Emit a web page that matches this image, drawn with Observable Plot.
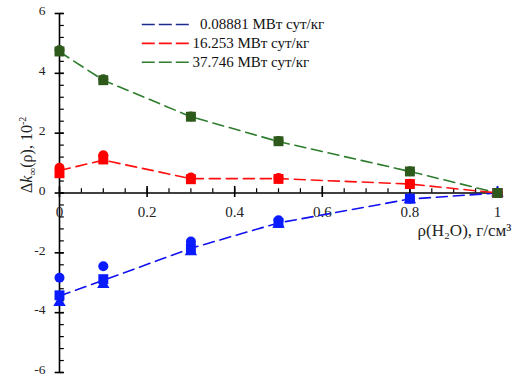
<!DOCTYPE html>
<html>
<head>
<meta charset="utf-8">
<script src="https://cdn.jsdelivr.net/npm/d3@7"></script>
<script src="https://cdn.jsdelivr.net/npm/@observablehq/plot@0.6"></script>
<style>
  html, body { margin: 0; padding: 0; background: #fff; overflow: hidden; }
  #chart { width: 519px; height: 377px; overflow: hidden; }
  svg { font-family: "Liberation Serif", "DejaVu Serif", serif; }
</style>
</head>
<body>
<div id="chart"></div>
<script>
// ---- data ----
const rho = [0, 0.1, 0.3, 0.5, 0.8, 1];

const seriesNames = ["0.08881 МВт сут/кг", "16.253 МВт сут/кг", "37.746 МВт сут/кг"];
const lineColors = ["#1010f0", "#ff1010", "#2e7d2e"];
const markColors = ["#0a1cff", "#ff0000", "#2d5a1b"];
const legendColors = ["#1c2a8c", "#ff1010", "#2e7d2e"];

// fitted (dashed) curves
const blueLine  = [-3.44, -2.92, -1.85, -1.0, -0.2, 0];
const redLine   = [0.75, 1.1, 0.48, 0.48, 0.3, 0];
const greenLine = [4.72, 3.77, 2.55, 1.72, 0.72, 0];

// markers: circles, squares, triangles (triangles visible only for the blue series)
const blueCircles   = [-2.83, -2.45, -1.62, -0.91, -0.19, 0];
const blueSquares   = [-3.42, -2.88, -1.85, -1.0, -0.19, 0];
const blueTriangles = [-3.66, -3.06, -1.96, -1.04, -0.22, 0];

const redCircles   = [0.84, 1.26, 0.52, 0.5, 0.31, 0];
const redSquares   = [0.66, 1.12, 0.46, 0.47, 0.3, 0];

const greenCircles   = [4.78, 3.8, 2.56, 1.74, 0.73, 0];
const greenSquares   = [4.73, 3.77, 2.55, 1.73, 0.72, 0];

const xMajor = [0, 0.2, 0.4, 0.6, 0.8, 1];
const xMajorLabels = ["0", "0.2", "0.4", "0.6", "0.8", "1"];
const xMinor = d3.range(0, 1.0001, 0.05);
const yMajor = [-6, -4, -2, 0, 2, 4, 6];
const yMajorLabels = ["-6", "-4", "-2", "0", "2", "4", "6"];
const yMinor = d3.range(-6, 6.0001, 0.4);

const xTitle = "ρ(H₂O), г/см³";
const yTitle = "Δk∞(ρ), 10⁻²";

// ---- build tables ----
const lines = [blueLine, redLine, greenLine];
const circles = [blueCircles, redCircles, greenCircles];
const squares = [blueSquares, redSquares, greenSquares];
const triangles = [blueTriangles];

const lineData = [];
lines.forEach((arr, s) => arr.forEach((v, i) => lineData.push({s, x: rho[i], y: v})));
function pts(group) {
  const out = [];
  group.forEach((arr, s) => arr.forEach((v, i) => out.push({s, x: rho[i], y: v})));
  return out;
}
const circleData = pts(circles);
const squareData = pts(squares);
const triData = pts(triangles);

// legend rows (positioned in data space inside the frame)
const legendRows = seriesNames.map((name, i) => ({
  i, name: (i === 0 ? "\u00a0\u00a0" : "") + name,
  y: 5.63 - i * 0.63, x1: 0.189, x2: 0.299
}));

const font = "Liberation Serif";

const marks = [];
// axes lines
marks.push(Plot.ruleY([0], {x1: 0, x2: 1.01, stroke: "#000", strokeWidth: 1.6}));
marks.push(Plot.ruleX([0], {y1: -6, y2: 6, stroke: "#000", strokeWidth: 1.6}));
// x ticks
marks.push(Plot.ruleX(xMinor, {x: d => d, y1: 0, y2: 0.14, stroke: "#000", strokeWidth: 1.2}));
marks.push(Plot.ruleX(xMajor, {x: d => d, y1: -0.15, y2: 0.22, stroke: "#000", strokeWidth: 1.6}));
// y ticks
marks.push(Plot.ruleY(yMinor, {y: d => d, x1: 0, x2: 0.011, stroke: "#000", strokeWidth: 1.2}));
marks.push(Plot.ruleY(yMajor, {y: d => d, x1: -0.01, x2: 0.011, stroke: "#000", strokeWidth: 1.6}));
// tick labels
marks.push(Plot.text(xMajor, {x: d => d, y: 0, text: (d, i) => xMajorLabels[i], dy: 19, fontSize: 15, fill: "#222", fontFamily: font}));
marks.push(Plot.text(yMajor, {x: 0, y: d => d, text: (d, i) => yMajorLabels[i], dx: -14, dy: -2.5, textAnchor: "end", fontSize: 13.5, fill: "#222", fontFamily: font}));
// axis titles
marks.push(Plot.text([xTitle], {x: 1, y: 0, text: d => d, textAnchor: "start", dx: -80, dy: 38, fontSize: 17, fill: "#222", fontFamily: font}));
marks.push(Plot.text([yTitle], {frameAnchor: "left", text: d => d, rotate: -90, dx: -33, dy: 0, fontSize: 16, fill: "#222", fontFamily: font}));

// dashed lines
[0, 1, 2].forEach(s => {
  marks.push(Plot.line(lineData.filter(d => d.s === s), {x: "x", y: "y", stroke: lineColors[s], strokeWidth: 1.6, strokeDasharray: "11,6"}));
});
// markers
[0, 1, 2].forEach(s => {
  marks.push(Plot.dot(triData.filter(d => d.s === s), {x: "x", y: "y", symbol: "triangle", r: 4.6, fill: markColors[s], stroke: "none"}));
  marks.push(Plot.dot(circleData.filter(d => d.s === s), {x: "x", y: "y", symbol: "circle", r: 5, fill: markColors[s], stroke: "none"}));
  marks.push(Plot.dot(squareData.filter(d => d.s === s), {x: "x", y: "y", symbol: "square", r: 5.6, fill: markColors[s], stroke: "none"}));
});

// legend
marks.push(Plot.ruleY(legendRows, {y: "y", x1: "x1", x2: "x2", stroke: (d) => legendColors[d.i], strokeWidth: 1.6, strokeDasharray: "13,4"}));
marks.push(Plot.text(legendRows, {x: "x2", y: "y", text: "name", dx: 2, textAnchor: "start", fontSize: 15, fill: "#111", fontFamily: font}));

const chart = Plot.plot({
  width: 519,
  height: 377,
  marginLeft: 59,
  marginRight: 22,
  marginTop: 13,
  marginBottom: 5,
  x: {domain: [0, 1], axis: null},
  y: {domain: [-6, 6], axis: null},
  style: {background: "#fff", fontFamily: font, overflow: "hidden"},
  marks
});
document.getElementById("chart").appendChild(chart);

// style the y title: italic k, subscript ∞
d3.select(chart).selectAll("text").each(function() {
  if (this.textContent === yTitle) {
    const t = d3.select(this);
    t.text(null);
    t.append("tspan").text("Δ");
    t.append("tspan").attr("font-style", "italic").text("k");
    t.append("tspan").attr("font-size", 11).attr("dy", 4).text("∞");
    t.append("tspan").attr("dy", -4).text("(ρ), 10");
    t.append("tspan").attr("font-size", 10).attr("dy", -6).text("-2");
  }
});
</script>
</body>
</html>
